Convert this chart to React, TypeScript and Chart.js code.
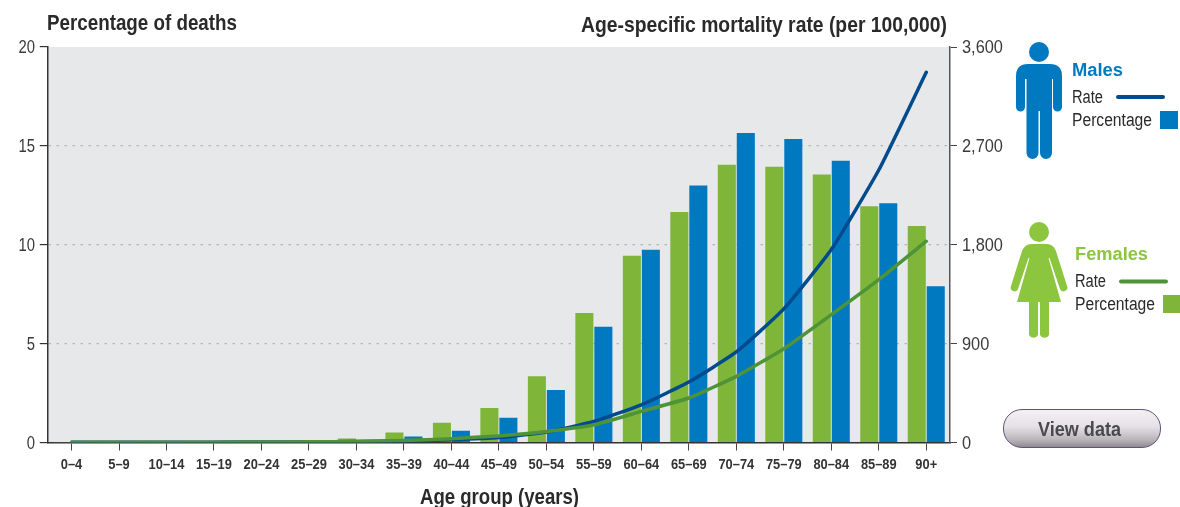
import React, { useEffect, useRef } from "react";
import { Chart, registerables } from "chart.js";

Chart.register(...registerables);

const ageGroups = ["0–4","5–9","10–14","15–19","20–24","25–29","30–34","35–39","40–44","45–49","50–54","55–59","60–64","65–69","70–74","75–79","80–84","85–89","90+"];
const femalePct = [0.01,0.01,0.01,0.02,0.03,0.08,0.2,0.5,1.0,1.75,3.35,6.55,9.45,11.65,14.05,13.95,13.55,11.95,10.95];
const malePct = [0.01,0.01,0.01,0.01,0.02,0.04,0.08,0.3,0.6,1.25,2.65,5.85,9.75,13.0,15.65,15.35,14.25,12.1,7.9];
const maleRate = [3,2,2,3,4,6,9,14,25,45,95,191,343,550,824,1216,1756,2480,3370];
const femaleRate = [3,2,2,3,4,6,10,18,35,60,100,161,283,405,602,854,1164,1483,1832];
const leftTicks = [0, 5, 10, 15, 20];
const rightTicks = [0, 900, 1800, 2700, 3600];

const FONT = '"Liberation Sans", Arial, sans-serif';
const BLUE = "#0079c1";
const NAVY = "#004b8d";
const GREEN = "#7fb539";
const DGREEN = "#4f9339";
const LIME = "#8cc63f";
const INK = "#2a2a2a";

const measureCtx = document.createElement("canvas").getContext("2d")!;
const fitScale = (text: string, font: string, width: number) => {
  measureCtx.font = font;
  return width / measureCtx.measureText(text).width;
};

const plotBg = {
  id: "plotBg",
  beforeDraw(chart: any) {
    const { ctx, chartArea: a } = chart;
    ctx.save();
    ctx.fillStyle = "#e7e8ea";
    ctx.fillRect(a.left, a.top, a.right - a.left, a.bottom - a.top);
    ctx.restore();
  },
};

// Condensed tick labels: no narrow font is installed, so the labels the scales generate are squeezed horizontally.
const narrowTicks = {
  id: "narrowTicks",
  afterDraw(chart: any) {
    const { ctx, scales } = chart;
    const draw = (text: string, x: number, y: number, sx: number, align: CanvasTextAlign, font: string, color: string) => {
      ctx.save();
      ctx.translate(x, y);
      ctx.scale(sx, 1);
      ctx.font = font;
      ctx.fillStyle = color;
      ctx.textAlign = align;
      ctx.textBaseline = "middle";
      ctx.fillText(text, 0, 0);
      ctx.restore();
    };
    const xFont = `bold 15.5px ${FONT}`;
    scales.x.ticks.forEach((t: any, i: number) => draw(String(t.label), scales.x.getPixelForTick(i), 465, 0.83, "center", xFont, "#333"));
    const yFont = `19px ${FONT}`;
    scales.yL.ticks.forEach((t: any, i: number) => draw(String(t.label), 35, scales.yL.getPixelForTick(i) + 1, 0.78, "right", yFont, "#3a3a3a"));
    scales.yR.ticks.forEach((t: any, i: number) => draw(String(t.label), 962, scales.yR.getPixelForTick(i) + 1, 0.86, "left", yFont, "#3a3a3a"));
  },
};

const label = (x: number, y: number, size: number, color: string, bold: boolean, text: string, width: number) => {
  const sx = fitScale(text, `${bold ? "bold " : ""}${size}px ${FONT}`, width);
  return (
    <div style={{
      position: "absolute", left: x, top: y - size * 0.6,
      fontFamily: FONT, fontSize: size, lineHeight: `${size * 1.2}px`, fontWeight: bold ? 700 : 400, color, whiteSpace: "nowrap",
      transform: `scaleX(${sx})`, transformOrigin: "0 50%",
    }}>{text}</div>
  );
};

export default function App() {
  const ref = useRef<HTMLCanvasElement>(null);
  useEffect(() => {
    const chart = new Chart(ref.current!, {
      type: "bar",
      plugins: [plotBg, narrowTicks],
      data: {
        labels: ageGroups,
        datasets: [
          { type: "line", label: "Females rate", data: femaleRate, yAxisID: "yR", borderColor: DGREEN, borderWidth: 3.5, pointRadius: 0, tension: 0.15, borderCapStyle: "round", order: 1 },
          { type: "line", label: "Males rate", data: maleRate, yAxisID: "yR", borderColor: NAVY, borderWidth: 3.5, pointRadius: 0, tension: 0.15, borderCapStyle: "round", order: 2 },
          { type: "bar", label: "Females percentage", data: femalePct, yAxisID: "yL", backgroundColor: GREEN, categoryPercentage: 0.8, barPercentage: 0.95, order: 3 },
          { type: "bar", label: "Males percentage", data: malePct, yAxisID: "yL", backgroundColor: BLUE, categoryPercentage: 0.8, barPercentage: 0.95, order: 4 },
        ],
      } as any,
      options: {
        responsive: false,
        animation: false,
        layout: { padding: { top: 47, bottom: 0, left: 0, right: 0 } },
        plugins: { legend: { display: false }, tooltip: { enabled: false }, title: { display: false } },
        scales: {
          x: {
            offset: true,
            afterFit(s: any) { s.height = 64.5; },
            grid: { display: true, drawOnChartArea: false, drawTicks: true, tickLength: 8, tickColor: "#444", offset: false },
            border: { color: "#333", width: 1.5 },
            ticks: { display: false, autoSkip: false, maxRotation: 0, minRotation: 0 },
          },
          yL: {
            position: "left", min: 0, max: 20,
            afterFit(s: any) { s.width = 47.8; },
            afterBuildTicks(s: any) { s.ticks = leftTicks.map((value) => ({ value })); },
            grid: {
              tickLength: 8, tickColor: "#333",
              color: (c: any) => (c.tick && (c.tick.value === 0 || c.tick.value === 20) ? "rgba(0,0,0,0)" : "#b4b5b7"),
              lineWidth: 1.2,
            },
            border: { color: "#333", width: 1.5, dash: [2.5, 5.5] },
            ticks: { display: false },
          },
          yR: {
            position: "right", min: 0, max: 3600,
            afterFit(s: any) { s.width = 230; },
            afterBuildTicks(s: any) { s.ticks = rightTicks.map((value) => ({ value })); },
            grid: { drawOnChartArea: false, tickLength: 7, tickColor: "#444" },
            border: { color: "#555", width: 1.5 },
            ticks: { display: false, callback: (v: any) => Number(v).toLocaleString("en-US") },
          },
        },
      } as any,
    });
    return () => chart.destroy();
  }, []);

  const btnText = "View data";
  const btnSx = fitScale(btnText, `bold 20px ${FONT}`, 83);

  return (
    <div style={{ position: "absolute", left: 0, top: 0, width: 1180, height: 507, overflow: "hidden", background: "#fff" }}>
      <canvas ref={ref} width={1180} height={507} style={{ position: "absolute", left: 0, top: 0, display: "block" }} />
      {label(47, 23, 22, INK, true, "Percentage of deaths", 190)}
      {label(581, 25, 22, INK, true, "Age-specific mortality rate (per 100,000)", 366)}
      {label(420, 497, 22, INK, true, "Age group (years)", 159)}

      <svg width={1180} height={507} style={{ position: "absolute", left: 0, top: 0 }}>
        <circle cx={1039} cy={52} r={10} fill={BLUE} />
        <path fill={BLUE} d="M1028 64 H1050 Q1062 64 1062 76 V107 A4.5 4.5 0 0 1 1053 107 V79 H1052 V153 A6 6 0 0 1 1040 153 V111 H1038.5 V153 A6 6 0 0 1 1026.5 153 V79 H1025 V107 A4.5 4.5 0 0 1 1016 107 V76 Q1016 64 1028 64Z" />
        <rect x={1116} y={95} width={49} height={4} rx={2} fill={NAVY} />
        <rect x={1160} y={111} width={18} height={18} fill={BLUE} />

        <circle cx={1039} cy={232} r={10} fill={LIME} />
        <path fill={LIME} d="M1031 244 H1047 Q1053 244 1056 251 L1067 286 A3.8 3.8 0 0 1 1060 289 L1049.5 258 L1048.5 258 L1061 302 H1049 V335 A5 5 0 0 1 1040 335 V302 H1038 V335 A5 5 0 0 1 1029 335 V302 H1017 L1029.5 258 L1028.5 258 L1018 289 A3.8 3.8 0 0 1 1011 286 L1022 251 Q1025 244 1031 244Z" />
        <rect x={1119} y={279.5} width={49} height={4} rx={2} fill={DGREEN} />
        <rect x={1163} y={295} width={17} height={18} fill={GREEN} />
      </svg>

      {label(1072, 71, 18, BLUE, true, "Males", 51)}
      {label(1072, 97.5, 18, INK, false, "Rate", 31)}
      {label(1072, 121, 18, INK, false, "Percentage", 80)}
      {label(1075, 255, 18, LIME, true, "Females", 73)}
      {label(1075, 281.5, 18, INK, false, "Rate", 31)}
      {label(1075, 305, 18, INK, false, "Percentage", 80)}

      <div style={{
        position: "absolute", left: 1003, top: 409, width: 156, height: 37, borderRadius: 19,
        border: "1.5px solid #5f5478",
        background: "linear-gradient(#f3eff3 0%, #e6e1e6 45%, #b9b5ba 80%, #8f8c90 100%)",
      }} />
      <div style={{
        position: "absolute", left: 1038, top: 417, fontFamily: FONT, fontWeight: 700, fontSize: 20, lineHeight: "24px",
        color: "#4a4a4c", whiteSpace: "nowrap", transform: `scaleX(${btnSx})`, transformOrigin: "0 50%",
      }}>{btnText}</div>
    </div>
  );
}
